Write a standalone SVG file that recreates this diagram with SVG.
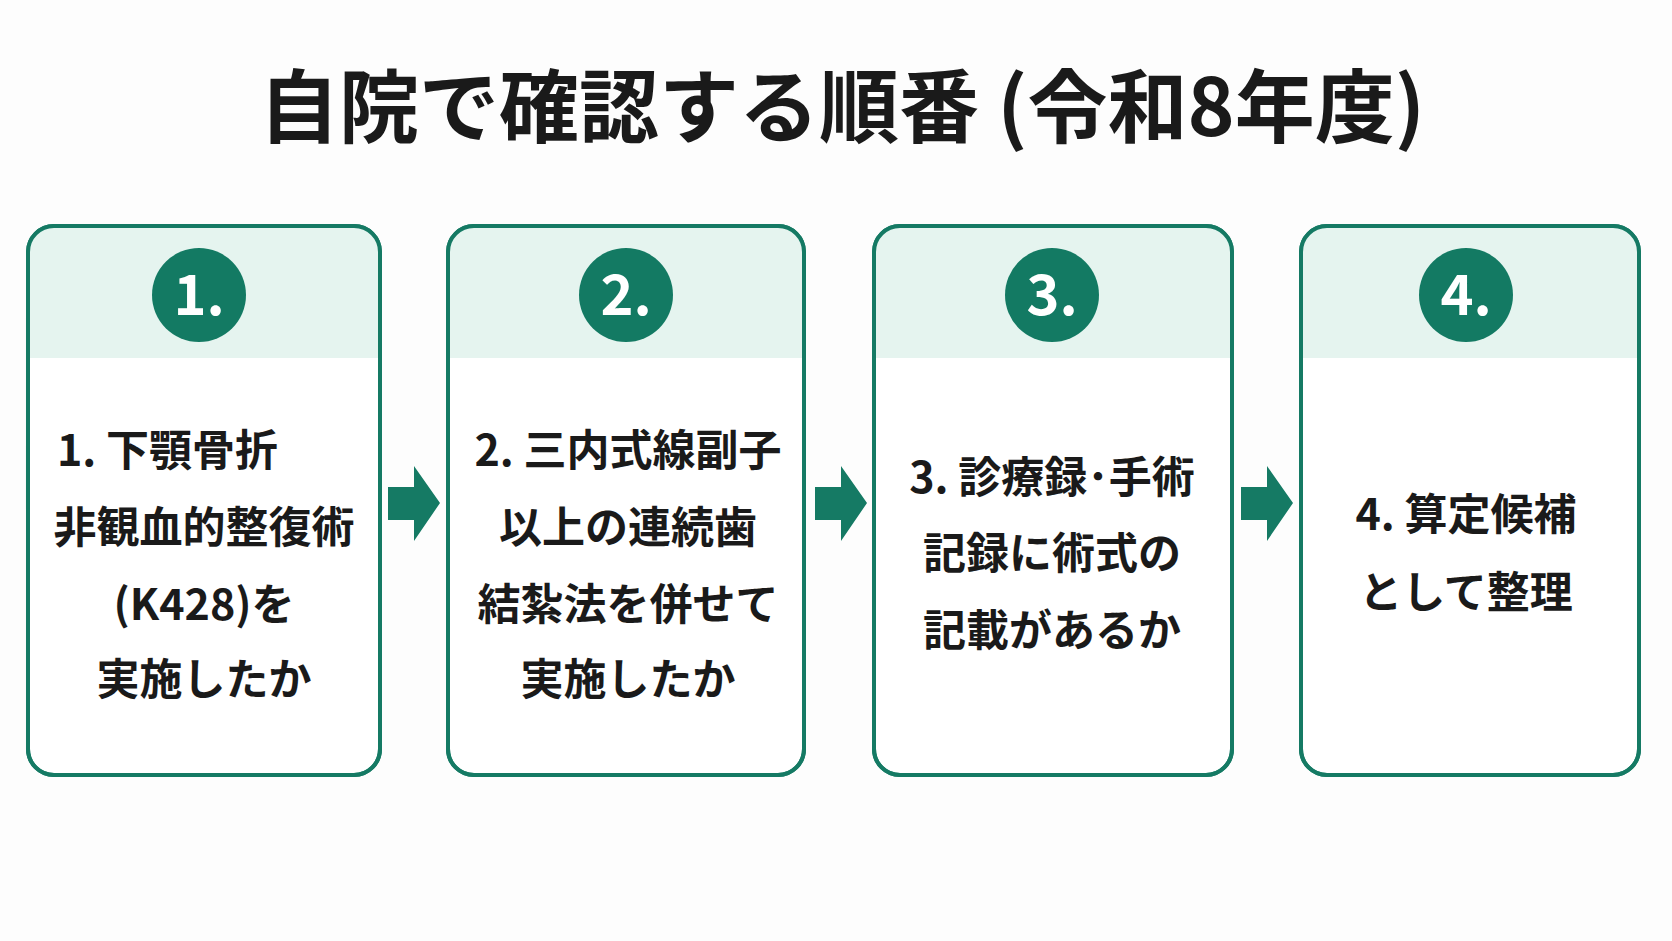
<svg xmlns="http://www.w3.org/2000/svg" width="1672" height="941" viewBox="0 0 1672 941">
<style>
.card{fill:#fff;stroke:#157a64;stroke-width:4}
.band{fill:#e5f4ef}
.num{fill:#137a63}
.nt{fill:#fff;font:bold 56px "Noto Sans CJK JP","Noto Sans",sans-serif;text-anchor:middle}
.t{fill:#1a1a1a;font:bold 43px "Noto Sans CJK JP",sans-serif;text-anchor:middle}
.title{fill:#1a1a1a;font:bold 80px "Noto Sans CJK JP",sans-serif;text-anchor:middle}
.arr{fill:#157a64}
</style>
<rect width="1672" height="941" fill="#fdfdfd"/>
<text class="title" x="842" y="136">自院で確認する順番 (令和8年度)</text>
<defs>
<clipPath id="c1"><rect x="28" y="226" width="352" height="549" rx="26"/></clipPath>
<clipPath id="c2"><rect x="448" y="226" width="356" height="549" rx="26"/></clipPath>
<clipPath id="c3"><rect x="874" y="226" width="358" height="549" rx="26"/></clipPath>
<clipPath id="c4"><rect x="1301" y="226" width="338" height="549" rx="26"/></clipPath>
</defs>
<g id="node1">
<rect class="card" x="28" y="226" width="352" height="549" rx="26"/>
<rect class="band" x="28" y="226" width="352" height="132" clip-path="url(#c1)"/>
<rect x="28" y="226" width="352" height="549" rx="26" fill="none" stroke="#157a64" stroke-width="4"/>
<circle class="num" cx="199" cy="295" r="47"/><text class="nt" x="199" y="315">1.</text>
<text class="t" x="57" y="466" style="text-anchor:start">1. 下顎骨折</text>
<text class="t" x="204" y="543">非観血的整復術</text>
<text class="t" x="204" y="620">(K428)を</text>
<text class="t" x="204" y="695">実施したか</text>
</g>
<g id="node2">
<rect class="card" x="448" y="226" width="356" height="549" rx="26"/>
<rect class="band" x="448" y="226" width="356" height="132" clip-path="url(#c2)"/>
<rect x="448" y="226" width="356" height="549" rx="26" fill="none" stroke="#157a64" stroke-width="4"/>
<circle class="num" cx="626" cy="295" r="47"/><text class="nt" x="626" y="315">2.</text>
<text class="t" x="628" y="466">2. 三内式線副子</text>
<text class="t" x="628" y="543">以上の連続歯</text>
<text class="t" x="628" y="620">結紮法を併せて</text>
<text class="t" x="628" y="695">実施したか</text>
</g>
<g id="node3">
<rect class="card" x="874" y="226" width="358" height="549" rx="26"/>
<rect class="band" x="874" y="226" width="358" height="132" clip-path="url(#c3)"/>
<rect x="874" y="226" width="358" height="549" rx="26" fill="none" stroke="#157a64" stroke-width="4"/>
<circle class="num" cx="1052" cy="295" r="47"/><text class="nt" x="1052" y="315">3.</text>
<text class="t" x="1052" y="493">3. 診療録･手術</text>
<text class="t" x="1052" y="569">記録に術式の</text>
<text class="t" x="1052" y="646">記載があるか</text>
</g>
<g id="node4">
<rect class="card" x="1301" y="226" width="338" height="549" rx="26"/>
<rect class="band" x="1301" y="226" width="338" height="132" clip-path="url(#c4)"/>
<rect x="1301" y="226" width="338" height="549" rx="26" fill="none" stroke="#157a64" stroke-width="4"/>
<circle class="num" cx="1466" cy="295" r="47"/><text class="nt" x="1466" y="315">4.</text>
<text class="t" x="1466" y="530">4. 算定候補</text>
<text class="t" x="1466" y="608">として整理</text>
</g>
<g id="connectors">
<polygon class="arr" points="388,487 414,487 414,466 440,503 414,541 414,520 388,520"/>
<polygon class="arr" points="815,487 841,487 841,466 867,503 841,541 841,520 815,520"/>
<polygon class="arr" points="1241,487 1267,487 1267,466 1293,503 1267,541 1267,520 1241,520"/>
</g>
</svg>
